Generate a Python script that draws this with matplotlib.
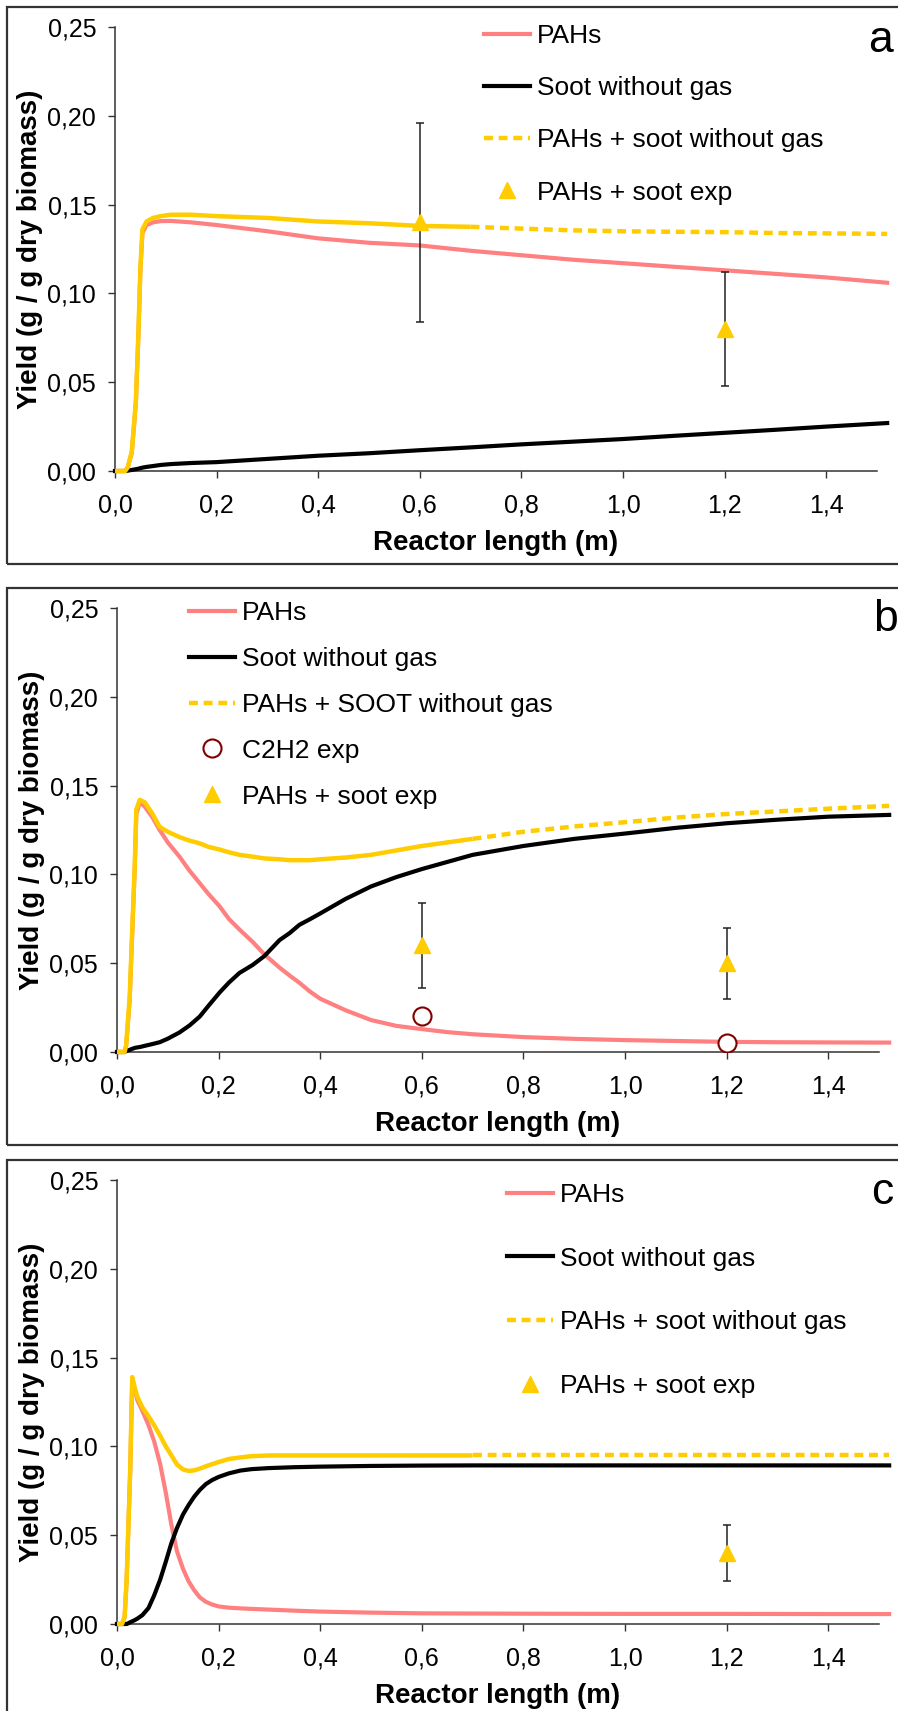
import numpy as np
import matplotlib
matplotlib.use('Agg')
import matplotlib.pyplot as plt
from matplotlib.patches import Rectangle

plt.rcParams['font.family'] = ['Liberation Sans', 'DejaVu Sans']

# ---- data ----
# panel a
xa = [0, 0.02, 0.025, 0.033, 0.041, 0.046, 0.05, 0.054, 0.062, 0.075, 0.09, 0.11, 0.15, 0.2,
      0.3, 0.4, 0.5, 0.6, 0.7, 0.8, 0.9, 1.0, 1.1, 1.2, 1.3, 1.4, 1.52]
pah_a = [0, 0, 0.002, 0.010, 0.038, 0.076, 0.113, 0.134, 0.1385, 0.140, 0.1407, 0.1408, 0.140, 0.1385,
         0.135, 0.131, 0.1285, 0.127, 0.124, 0.1215, 0.119, 0.117, 0.115, 0.113, 0.111, 0.109, 0.106]
soot_a = [0, 0, 0.0002, 0.0006, 0.001, 0.0013, 0.0016, 0.0019, 0.0023, 0.0028, 0.0034, 0.0039, 0.0045, 0.005,
          0.0068, 0.0086, 0.010, 0.0117, 0.0133, 0.015, 0.0165, 0.018, 0.0198, 0.0215, 0.0232, 0.025, 0.027]
sum_a = [0, 0, 0.002, 0.011, 0.039, 0.077, 0.115, 0.136, 0.1405, 0.1425, 0.1435, 0.1443, 0.1443, 0.1435,
         0.1425, 0.1405, 0.1395, 0.138, 0.1375, 0.1365, 0.1355, 0.135, 0.1347, 0.1345, 0.134, 0.1338, 0.1335]
exp_x_a = [0.6, 1.2]
exp_y_a = [0.140, 0.080]
exp_err_a = [0.056, 0.032]

# panel b
xb = [0, 0.015, 0.018, 0.025, 0.030, 0.035, 0.038, 0.045, 0.055, 0.07, 0.084, 0.1, 0.123, 0.143, 0.163,
      0.18, 0.202, 0.22, 0.241, 0.267, 0.29, 0.32, 0.34, 0.359, 0.38, 0.4, 0.45, 0.5, 0.55, 0.6, 0.65,
      0.7, 0.8, 0.9, 1.0, 1.1, 1.2, 1.3, 1.4, 1.52]
pah_b = [0, 0, 0.0034, 0.0295, 0.067, 0.104, 0.134, 0.1407, 0.138, 0.132, 0.125, 0.118, 0.110, 0.102, 0.095,
         0.089, 0.082, 0.075, 0.069, 0.062, 0.055, 0.0475, 0.043, 0.039, 0.034, 0.030, 0.0235, 0.018, 0.0147, 0.0129, 0.0112,
         0.010, 0.0084, 0.0074, 0.0067, 0.0062, 0.0057, 0.0055, 0.0054, 0.0053]
soot_b = [0, 0, 0.0005, 0.0012, 0.0018, 0.0023, 0.0025, 0.0028, 0.0035, 0.0045, 0.0055, 0.0075, 0.011, 0.015, 0.020,
          0.026, 0.0335, 0.039, 0.0445, 0.049, 0.054, 0.063, 0.067, 0.0716, 0.0748, 0.078, 0.0862, 0.0932, 0.0985, 0.103, 0.107,
          0.111, 0.116, 0.120, 0.123, 0.1262, 0.1288, 0.1308, 0.1325, 0.1335]
sum_b = [0, 0, 0.0039, 0.031, 0.069, 0.106, 0.1365, 0.142, 0.1405, 0.134, 0.1267, 0.124, 0.121, 0.119, 0.1175,
         0.1155, 0.114, 0.1125, 0.111, 0.110, 0.109, 0.1085, 0.108, 0.108, 0.108, 0.1085, 0.1095, 0.111, 0.1135, 0.116, 0.118,
         0.120, 0.124, 0.127, 0.1294, 0.132, 0.134, 0.1355, 0.137, 0.1386]
c2h2_x_b = [0.6, 1.2]
c2h2_y_b = [0.020, 0.005]
exp_x_b = [0.6, 1.2]
exp_y_b = [0.060, 0.050]
exp_err_b = [0.024, 0.020]

# panel c
xc = [0, 0.01, 0.015, 0.019, 0.023, 0.026, 0.03, 0.035, 0.04, 0.05, 0.062, 0.073, 0.085, 0.096, 0.107, 0.118,
      0.13, 0.141, 0.152, 0.163, 0.175, 0.187, 0.2, 0.22, 0.243, 0.265, 0.3, 0.35, 0.4, 0.5, 0.6, 0.7, 0.8,
      1.0, 1.2, 1.4, 1.52]
pah_c = [0, 0, 0.004, 0.025, 0.06, 0.086, 0.138, 0.132, 0.126, 0.120, 0.112, 0.103, 0.090, 0.074, 0.056, 0.041,
         0.031, 0.024, 0.019, 0.015, 0.0125, 0.011, 0.0099, 0.0092, 0.0088, 0.0085, 0.0081, 0.0075, 0.007, 0.0064, 0.006, 0.0059, 0.0058,
         0.0057, 0.0057, 0.0056, 0.0056]
soot_c = [0, 0, 0, 0, 0.0005, 0.001, 0.0015, 0.0022, 0.003, 0.005, 0.009, 0.016, 0.025, 0.035, 0.0455, 0.054,
          0.0617, 0.067, 0.0717, 0.0755, 0.0788, 0.081, 0.0828, 0.0848, 0.0864, 0.0872, 0.0878, 0.0883, 0.0886, 0.089, 0.0892, 0.0893, 0.0893,
          0.0893, 0.0893, 0.0893, 0.0893]
sum_c = [0, 0, 0.004, 0.025, 0.06, 0.087, 0.139, 0.133, 0.128, 0.122, 0.117, 0.112, 0.106, 0.100, 0.095, 0.0898,
         0.087, 0.0862, 0.0865, 0.0875, 0.0888, 0.090, 0.0912, 0.0929, 0.0938, 0.0945, 0.0949, 0.0949, 0.0949, 0.0949, 0.0949, 0.0949, 0.0949,
         0.0949, 0.0949, 0.0949, 0.0949]
exp_x_c = [1.2]
exp_y_c = [0.040]
exp_err_c = [0.016]

xticks = [0, 0.2, 0.4, 0.6, 0.8, 1.0, 1.2, 1.4]
xticklabels = ['0,0', '0,2', '0,4', '0,6', '0,8', '1,0', '1,2', '1,4']
yticks = [0, 0.05, 0.10, 0.15, 0.20, 0.25]
yticklabels = ['0,00', '0,05', '0,10', '0,15', '0,20', '0,25']

PINK = '#FF8080'
YELLOW = '#FFCC00'
SPINE = '#333333'

W, H = 898, 1711
fig = plt.figure(figsize=(W / 100, H / 100), dpi=100)


def add_ax(left, top, right, bottom):
    return fig.add_axes([left / W, 1 - bottom / H, (right - left) / W, (bottom - top) / H])


def frame(top, bottom):
    # panel border (right side runs off the picture)
    y0 = 1 - bottom / H
    fig.add_artist(Rectangle((7 / W, y0), 1.2, (bottom - top) / H, transform=fig.transFigure,
                             fill=False, ec=SPINE, lw=1.6))


def style(ax):
    ax.set_xlim(0, 1.5)
    ax.set_ylim(0, 0.25)
    for s in ['top', 'right']:
        ax.spines[s].set_visible(False)
    for s in ['left', 'bottom']:
        ax.spines[s].set_color(SPINE)
        ax.spines[s].set_linewidth(1.1)
    ax.set_xticks(xticks)
    ax.set_xticklabels(xticklabels)
    ax.set_yticks(yticks)
    ax.set_yticklabels(yticklabels)
    ax.tick_params(axis='x', length=5, width=1, color=SPINE, pad=11, labelsize=18)
    ax.tick_params(axis='y', length=5, width=1, color=SPINE, pad=8.5, labelsize=18)
    ax.set_xlabel('Reactor length (m)', fontsize=20, fontweight='bold')
    ax.set_ylabel('Yield (g / g dry biomass)', fontsize=20, fontweight='bold')
    ax.xaxis.set_label_coords(0.5, -0.134)
    ax.yaxis.set_label_coords(-0.094, 0.5)


def curves(ax, x, pah, soot, tot, sum_label):
    x = np.array(x)
    tot = np.array(tot)
    ax.plot(x, pah, color=PINK, lw=3, label='PAHs', clip_on=False, zorder=3)
    ax.plot(x, soot, color='black', lw=3, label='Soot without gas', clip_on=False, zorder=3)
    solid = x <= 0.7
    dashed = x >= 0.7
    ax.plot(x[solid], tot[solid], color=YELLOW, lw=3.2, clip_on=False, zorder=4,
            solid_capstyle='butt')
    ax.plot(x[dashed], tot[dashed], color=YELLOW, lw=3.2, ls=(0, (2.0, 1.3)),
            dash_capstyle='butt', label=sum_label, clip_on=False, zorder=4)


def exp_points(ax, x, y, err):
    ax.errorbar(x, y, yerr=err, fmt='none', ecolor='#222222', elinewidth=1.1,
                capsize=3, capthick=1.1, zorder=5)
    ax.plot(x, y, ls='none', marker='^', ms=12, color=YELLOW, mec=YELLOW,
            label='PAHs + soot exp', zorder=6)


def legend(ax, left, top, spacing):
    ax.legend(loc='upper left', bbox_to_anchor=(left / W, 1 - top / H),
              bbox_transform=fig.transFigure, frameon=False, fontsize=19,
              borderpad=0, borderaxespad=0, handlelength=1.74, handletextpad=0.27,
              labelspacing=spacing)


# panel a
frame(7, 564)
ax1 = add_ax(115, 27, 877, 471)
style(ax1)
curves(ax1, xa, pah_a, soot_a, sum_a, 'PAHs + soot without gas')
exp_points(ax1, exp_x_a, exp_y_a, exp_err_a)
legend(ax1, 484, 24, 1.07)
fig.text(880 / W, 1 - 52 / H, 'a', fontsize=32, ha='center', va='baseline')

# panel b
frame(588, 1145)
ax2 = add_ax(117, 608, 879, 1052)
style(ax2)
curves(ax2, xb, pah_b, soot_b, sum_b, 'PAHs + SOOT without gas')
ax2.plot(c2h2_x_b, c2h2_y_b, ls='none', marker='o', ms=13, mfc='white', mec='#800000',
         mew=1.5, label='C2H2 exp', zorder=6)
exp_points(ax2, exp_x_b, exp_y_b, exp_err_b)
legend(ax2, 189, 601, 0.83)
fig.text(886 / W, 1 - 631 / H, 'b', fontsize=32, ha='center', va='baseline')

# panel c
frame(1160, 1760)
ax3 = add_ax(117, 1180, 879, 1624)
style(ax3)
curves(ax3, xc, pah_c, soot_c, sum_c, 'PAHs + soot without gas')
exp_points(ax3, exp_x_c, exp_y_c, exp_err_c)
legend(ax3, 507, 1183, 1.5)
fig.text(882 / W, 1 - 1204 / H, 'c', fontsize=32, ha='center', va='baseline')

fig.savefig('out.png', dpi=100)
